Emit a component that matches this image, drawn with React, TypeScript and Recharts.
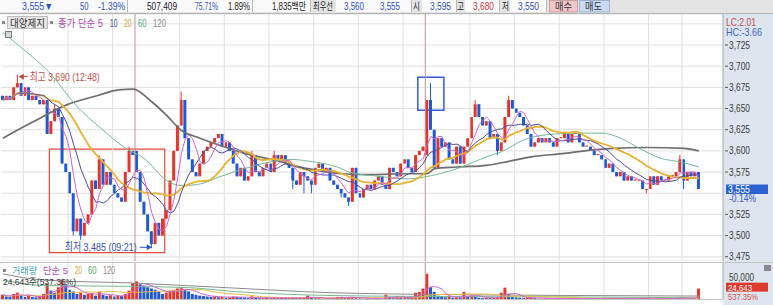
import React from "react";
import {
  ComposedChart,
  Bar,
  Line,
  XAxis,
  YAxis,
  CartesianGrid,
  ReferenceLine,
  ReferenceArea,
  ReferenceDot,
} from "recharts";

// 5-minute candles, three sessions (partial, full, partial)
const closes = [
  3660, 3665, 3660, 3675, 3680, 3665, 3675, 3660, 3665, 3660, 3655, 3660, 3620, 3635, 3650, 3640, 3585, 3575,
  3550, 3505, 3520, 3500, 3515, 3525, 3565, 3555, 3590, 3560, 3575, 3560, 3550, 3545, 3540, 3575, 3600, 3595,
  3575, 3540, 3525, 3505, 3490, 3515, 3500, 3520, 3530, 3565,
  3600, 3630, 3660, 3615, 3590, 3575, 3570, 3585, 3600, 3605,
  3610, 3615, 3620, 3605, 3610, 3600, 3585, 3570, 3580, 3565,
  3570, 3595, 3575, 3570, 3580, 3585, 3575, 3595, 3590, 3595,
  3585, 3580, 3565, 3560, 3575, 3570, 3565, 3560, 3580, 3585,
  3575, 3580, 3565, 3560, 3555, 3550, 3545, 3540, 3580, 3550,
  3545, 3555, 3560, 3555, 3565, 3570, 3560, 3555, 3580, 3575,
  3570, 3585, 3590, 3580, 3575, 3595, 3600, 3605,
  3660, 3625, 3580, 3615, 3605, 3610, 3590, 3585, 3605, 3585,
  3605, 3615, 3640, 3655, 3640, 3630, 3635, 3615, 3620, 3600,
  3610, 3640, 3660, 3650, 3645, 3640, 3630, 3620, 3605, 3610,
  3615, 3610, 3615, 3610, 3605, 3615, 3615, 3620, 3610, 3620,
  3620, 3610, 3605, 3605, 3600, 3595, 3595, 3590, 3580, 3585,
  3575, 3570, 3575, 3565, 3570, 3565, 3565, 3565, 3555, 3555,
  3570, 3560, 3570, 3565, 3565, 3570, 3570, 3575, 3590, 3565,
  3575, 3570, 3575, 3555,
];

// session opens (other candles open at the previous close)
const openAt: Record<number, number> = { 0: 3665, 36: 3600, 114: 3595 };
const highAt: Record<number, number> = {
  4: 3690, 14: 3655, 26: 3595, 34: 3605, 48: 3670, 67: 3600, 73: 3600, 115: 3680, 127: 3660, 136: 3665, 182: 3595,
};
const lowAt: Record<number, number> = {
  19: 3500, 21: 3495, 40: 3485, 78: 3555, 81: 3550, 83: 3550, 91: 3545, 93: 3535, 133: 3595, 173: 3550, 183: 3555,
};

const volumes = [
  10000, 6000, 5000, 12000, 15000, 8000, 5000, 8000, 5000, 4000, 6000, 12000, 37000, 20000, 15000, 28000, 45000, 35000,
  22000, 18000, 12000, 15000, 10000, 12000, 14000, 8000, 17000, 10000, 7000, 9000, 6000, 8000, 7000, 12000, 20000, 38000,
  42000, 35000, 30000, 28000, 25000, 22000, 18000, 12000, 15000, 20000,
  22000, 25000, 26000, 22000, 18000, 12000, 10000, 8000, 7000, 6000,
  5000, 6000, 4000, 5000, 3000, 4000, 6000, 5000, 4000, 3000,
  2000, 6000, 3000, 2000, 2000, 3000, 2000, 4000, 2000, 3000,
  2000, 2000, 4000, 2000, 3000, 3000, 8000, 3000, 2000, 2000,
  1000, 2000, 2000, 3000, 5000, 5000, 2000, 4000, 5000, 2000,
  2000, 1000, 2000, 1000, 2000, 2000, 1000, 10000, 3000, 2000,
  7000, 3000, 5000, 2000, 3000, 15000, 17000, 25000,
  60000, 28000, 17000, 8000, 5000, 4000, 6000, 3000, 4000, 3000,
  17000, 5000, 8000, 6000, 3000, 2000, 3000, 2000, 3000, 4000,
  15000, 27000, 12000, 5000, 4000, 3000, 2000, 3000, 4000, 2000,
  1000, 1000, 2000, 1000, 1000, 2000, 1000, 1000, 1000, 2000,
  1000, 1000, 2000, 1000, 1000, 1000, 2000, 1000, 3000, 2000,
  1000, 2000, 1000, 2000, 1000, 1000, 1000, 1000, 3000, 2000,
  2000, 1000, 1000, 1000, 1000, 1000, 1000, 2000, 4000, 2000,
  1000, 1000, 1000, 24643,
];

// longer averages: [candle index, value]
const ma60Pts = [
  [0, 3740], [3, 3729], [13, 3690], [20, 3652], [26, 3628], [33, 3603], [38, 3591], [44, 3565], [48, 3559],
  [53, 3561], [58, 3569], [62, 3575], [73, 3588], [77, 3590], [82, 3588], [91, 3579], [93, 3575], [101, 3570],
  [109, 3567], [113, 3569], [122, 3579], [130, 3593], [134, 3599], [140, 3613], [146, 3619], [155, 3621],
  [161, 3621], [166, 3615], [171, 3603], [177, 3591], [182, 3587], [187, 3581],
];
const ma120Pts = [
  [0, 3615], [8, 3634], [17, 3654], [26, 3666], [31, 3672], [35, 3673], [40, 3658], [44, 3642], [48, 3624],
  [53, 3615], [58, 3607], [62, 3601], [65, 3597], [73, 3589], [82, 3579], [91, 3573], [99, 3572], [109, 3573],
  [114, 3573], [116, 3579], [122, 3581], [130, 3583], [134, 3586], [142, 3593], [151, 3597], [158, 3601],
  [164, 3603], [173, 3604], [183, 3603], [187, 3600],
];
const volMa60Pts = [
  [0, 45000], [11, 32000], [35, 30000], [50, 27000], [62, 18000], [90, 8000], [114, 6000], [150, 5000], [187, 3000],
];
const volMa120Pts = [
  [0, 60000], [11, 45000], [35, 38000], [60, 27000], [88, 15000], [114, 11000], [150, 8500], [187, 7000],
];

const priceTicks = [3475, 3500, 3525, 3550, 3575, 3600, 3625, 3650, 3675, 3700, 3725, 3750];
const hourLines = [6, 18, 30, 48, 60, 72, 84, 96, 108, 126, 138, 150, 162, 174, 183];
const dayLines = [36, 114];
const SLOTS = 194;

const UP = "#e2362c";
const DOWN = "#2159d4";
const GRID = "#e0e0e0";
const AXIS = "#9eacbc";
const FONT = '"Liberation Sans", "Noto Sans CJK KR", sans-serif';

const sma = (arr: number[], n: number, i: number) => {
  const s = arr.slice(Math.max(0, i - n + 1), i + 1);
  return s.reduce((a, b) => a + b, 0) / s.length;
};

const rows: any[] = [];
for (let i = 0; i < SLOTS; i++) {
  if (i >= closes.length) {
    rows.push({ i });
    continue;
  }
  const close = closes[i];
  const open = openAt[i] ?? closes[i - 1];
  const high = highAt[i] ?? Math.max(open, close);
  const low = lowAt[i] ?? Math.min(open, close);
  rows.push({
    i,
    open,
    close,
    high,
    low,
    range: [low, high],
    up: close >= open,
    vol: volumes[i],
    volUp: i === 0 || volumes[i] >= volumes[i - 1],
    ma5: sma(closes, 5, i),
    ma10: sma(closes, 10, i),
    ma20: sma(closes, 20, i),
    vma5: sma(volumes, 5, i),
    vma20: sma(volumes, 20, i),
  });
}
ma60Pts.forEach(([k, v]) => (rows[k].ma60 = v));
ma120Pts.forEach(([k, v]) => (rows[k].ma120 = v));
volMa60Pts.forEach(([k, v]) => (rows[k].vma60 = v));
volMa120Pts.forEach(([k, v]) => (rows[k].vma120 = v));

const lastClose = closes[closes.length - 1];
const lastVol = volumes[volumes.length - 1];
const fmt = (v: number) => v.toLocaleString("en-US");

// condensed text: the terminal font is much narrower than anything installed
const T = ({ x, y, w, s = 10.5, c = "#333", anchor, children }: any) => (
  <text
    x={x}
    y={y}
    fontSize={s}
    fill={c}
    fontFamily={FONT}
    textAnchor={anchor}
    textLength={w}
    lengthAdjust="spacingAndGlyphs"
  >
    {children}
  </text>
);

const Candle = (props: any) => {
  let { x, y, width, height } = props;
  const p = props.payload;
  if (!p || p.close == null) return null;
  if (height < 0) {
    y += height;
    height = -height;
  }
  const color = p.up ? UP : DOWN;
  const span = p.high - p.low;
  const k = span > 0 ? height / span : 0;
  const top = y + (p.high - Math.max(p.open, p.close)) * k;
  const bot = y + (p.high - Math.min(p.open, p.close)) * k;
  const cx = x + width / 2;
  return (
    <g>
      <line x1={cx} x2={cx} y1={y} y2={y + Math.max(height, 1)} stroke={color} strokeWidth={1} />
      <rect x={x} y={top} width={width} height={Math.max(1, bot - top)} fill={color} />
    </g>
  );
};

const VolBar = (props: any) => {
  const { x, y, width, height, payload } = props;
  if (!payload || payload.vol == null) return null;
  return <rect x={x} y={y} width={width} height={Math.max(0, height)} fill={payload.volUp ? UP : DOWN} />;
};

const PriceTick = ({ x, y, payload }: any) => {
  if (payload.value === 3750 || payload.value === 3550) return null;
  return (
    <g>
      <line x1={x + 2} x2={x + 5} y1={y} y2={y} stroke="#555" />
      <T x={x + 6} y={y + 3.5} w={21} s={10.5} c="#3c3c3c">
        {fmt(payload.value)}
      </T>
    </g>
  );
};

const VolTick = ({ x, y, payload }: any) => (
  <T x={x + 6} y={y + 3} w={25} s={10} c="#3c3c3c">
    {fmt(payload.value)}
  </T>
);

const HighLabel = ({ viewBox }: any) => {
  const cx = viewBox.x + viewBox.width / 2;
  const cy = viewBox.y + viewBox.height / 2 + 2;
  return (
    <g>
      <polygon points={`${cx + 1},${cy} ${cx + 6},${cy - 3} ${cx + 6},${cy + 3}`} fill="#d03a3a" />
      <line x1={cx + 5} x2={cx + 10} y1={cy} y2={cy} stroke="#d03a3a" />
      <T x={cx + 12} y={cy + 4} w={70} s={11} c="#c0504d">
        최고 3,690 (12:48)
      </T>
    </g>
  );
};

const LowLabel = ({ viewBox }: any) => {
  const cx = viewBox.x + viewBox.width / 2;
  const cy = viewBox.y + viewBox.height / 2 - 1;
  return (
    <g>
      <polygon points={`${cx},${cy} ${cx - 5},${cy - 3} ${cx - 5},${cy + 3}`} fill="#2a4fd0" />
      <line x1={cx - 12} x2={cx - 4} y1={cy} y2={cy} stroke="#2a4fd0" />
      <T x={cx - 87} y={cy + 4} w={72} s={11} c="#3550b8">
        최저 3,485 (09:21)
      </T>
    </g>
  );
};

const PriceBox = ({ viewBox }: any) => {
  const x = viewBox.x + viewBox.width + 3;
  const y = viewBox.y;
  return (
    <g>
      <rect x={x} y={y - 4.5} width={42} height={9.5} fill="#2d62d2" />
      <T x={x + 2} y={y + 3.6} w={22} s={10} c="#fff">
        {fmt(lastClose)}
      </T>
      <T x={x + 3} y={y + 13} w={27} s={10} c="#3a58c0">
        -0.14%
      </T>
    </g>
  );
};

const VolBox = ({ viewBox }: any) => {
  const x = viewBox.x + viewBox.width + 3;
  const y = viewBox.y - 1.5;
  return (
    <g>
      <rect x={x} y={y - 4.5} width={42} height={9} fill="#e0392e" />
      <T x={x + 2} y={y + 3.5} w={24} s={9.5} c="#fff">
        {fmt(lastVol)}
      </T>
      <T x={x + 2} y={y + 12.5} w={30} s={9.5} c="#d0504a">
        537.35%
      </T>
    </g>
  );
};

const gridLines = () => [
  ...hourLines.map((g) => <ReferenceLine key={`h${g}`} x={g} position="start" stroke={GRID} />),
  ...dayLines.map((g) => <ReferenceLine key={`d${g}`} x={g} position="start" stroke="#c98e8e" />),
];

const headerCells = [
  [0, 127], [128, 124], [253, 57], [336, 75], [422, 34], [465, 34], [510, 36],
];

const headerTexts = [
  { x: 22, w: 31, t: "3,555▼", c: "#3150c4" },
  { x: 80, w: 8.5, t: "50", c: "#3150c4" },
  { x: 98, w: 27, t: "-1.39%", c: "#3150c4" },
  { x: 147, w: 30, t: "507,409", c: "#222" },
  { x: 195, w: 23, t: "75.71%", c: "#3150c4" },
  { x: 228, w: 22, t: "1.89%", c: "#222" },
  { x: 272, w: 34, t: "1,835백만", c: "#222" },
  { x: 313, w: 20, t: "최우선", c: "#222" },
  { x: 344, w: 20, t: "3,560", c: "#3150c4" },
  { x: 380, w: 20, t: "3,555", c: "#3150c4" },
  { x: 413, w: 7, t: "시", c: "#222" },
  { x: 430, w: 21, t: "3,595", c: "#3150c4" },
  { x: 457, w: 7, t: "고", c: "#222" },
  { x: 473, w: 21, t: "3,680", c: "#c83a3a" },
  { x: 502, w: 7, t: "저", c: "#222" },
  { x: 518, w: 21, t: "3,550", c: "#3150c4" },
];

const abs = (x: number, y: number, extra: React.CSSProperties = {}): React.CSSProperties => ({
  position: "absolute",
  left: x,
  top: y,
  ...extra,
});

export default function App() {
  return (
    <div
      style={{
        position: "absolute",
        left: 0,
        top: 0,
        width: 773,
        height: 305,
        overflow: "hidden",
        background: "#fff",
        fontFamily: FONT,
      }}
    >
      {/* right scale background */}
      <div style={abs(723, 14, { width: 50, height: 291, background: "#dde5ef" })} />

      {/* price panel */}
      <div style={abs(0, 14)}>
        <ComposedChart width={773} height={247} data={rows} margin={{ top: 0, right: 0, bottom: 0, left: 1 }}>
          <CartesianGrid vertical={false} stroke={GRID} />
          <XAxis dataKey="i" hide />
          <YAxis
            orientation="right"
            width={50}
            domain={[3470, 3761.6]}
            ticks={priceTicks}
            interval={0}
            allowDataOverflow
            tick={<PriceTick />}
            tickLine={false}
            tickSize={0}
            tickMargin={0}
            axisLine={{ stroke: AXIS }}
          />
          {gridLines()}
          <ReferenceArea x1={13} x2={43} y1={3480} y2={3602} fill="none" stroke="#e8493c" strokeWidth={1.2} />
          <ReferenceArea x1={112} x2={118} y1={3648} y2={3687} fill="none" stroke="#3258e8" strokeWidth={1.5} />
          <Bar dataKey="range" barSize={3} shape={<Candle />} minPointSize={1} isAnimationActive={false} />
          <Line dataKey="ma120" type="monotone" stroke="#6e6e6e" strokeWidth={1.7} dot={false} connectNulls isAnimationActive={false} />
          <Line dataKey="ma60" type="monotone" stroke="#74b894" strokeWidth={1} dot={false} connectNulls isAnimationActive={false} />
          <Line dataKey="ma20" type="linear" stroke="#e9b22e" strokeWidth={1.8} dot={false} isAnimationActive={false} />
          <Line dataKey="ma10" type="linear" stroke="#4a4c9c" strokeWidth={1} dot={false} isAnimationActive={false} />
          <Line dataKey="ma5" type="linear" stroke="#cc66cc" strokeWidth={1} dot={false} isAnimationActive={false} />
          <ReferenceDot x={4} y={3690} r={0.5} fill="none" stroke="none" label={<HighLabel />} />
          <ReferenceDot x={40} y={3485} r={0.5} fill="none" stroke="none" label={<LowLabel />} />
          <ReferenceLine y={lastClose} stroke="none" label={<PriceBox />} />
        </ComposedChart>
      </div>

      {/* volume panel (extra bottom margin leaves room for the axis labels) */}
      <div style={abs(0, 262)}>
        <ComposedChart width={773} height={43} data={rows} margin={{ top: 0, right: 0, bottom: 6, left: 1 }}>
          <XAxis dataKey="i" hide />
          <YAxis
            orientation="right"
            width={50}
            domain={[0, 88100]}
            ticks={[50000]}
            allowDataOverflow
            tick={<VolTick />}
            tickLine={false}
            tickSize={0}
            tickMargin={0}
            axisLine={{ stroke: AXIS }}
          />
          {gridLines()}
          <Bar dataKey="vol" barSize={3} shape={<VolBar />} isAnimationActive={false} />
          <Line dataKey="vma120" type="monotone" stroke="#8a8a8a" strokeWidth={1} dot={false} connectNulls isAnimationActive={false} />
          <Line dataKey="vma60" type="monotone" stroke="#74b894" strokeWidth={1} dot={false} connectNulls isAnimationActive={false} />
          <Line dataKey="vma20" type="linear" stroke="#e9c040" strokeWidth={1} dot={false} isAnimationActive={false} />
          <Line dataKey="vma5" type="linear" stroke="#cc66cc" strokeWidth={1} dot={false} isAnimationActive={false} />
          <ReferenceLine y={lastVol} stroke="none" label={<VolBox />} />
        </ComposedChart>
      </div>

      {/* header, legends and panel furniture */}
      <svg width={773} height={305} style={abs(0, 0, { pointerEvents: "none" })}>
        <rect x={0} y={262} width={773} height={1} fill="#c4c4c4" />
        <rect x={0} y={299} width={723} height={1} fill="#c4c4c4" />

        <rect x={0} y={0} width={773} height={13} fill="#e4e4e4" />
        <rect x={0} y={13} width={773} height={1} fill="#b4b4b4" />
        {headerCells.map(([x, w]) => (
          <g key={x}>
            <rect x={x} y={0} width={w} height={12} fill="#fafafa" />
            <rect x={x + w} y={0} width={1} height={12} fill="#b8b8b8" />
          </g>
        ))}
        {headerTexts.map((h) => (
          <T key={h.x} x={h.x} y={10} w={h.w} s={10.5} c={h.c}>
            {h.t}
          </T>
        ))}
        <rect x={549.5} y={0.5} width={28} height={11.5} fill="#f2c6c6" stroke="#c9a0a0" />
        <T x={555} y={10} w={17} s={10} c="#333">매수</T>
        <rect x={579.5} y={0.5} width={30} height={11.5} fill="#c9daf2" stroke="#9fb3cf" />
        <T x={585} y={10} w={17} s={10} c="#333">매도</T>

        <rect x={2} y={21} width={3} height={3} fill="#888" />
        <rect x={7.5} y={16.5} width={40} height={12} fill="#e6e6e6" stroke="#bdbdbd" />
        <T x={10} y={27} w={35} s={10.5} c="#333">대양제지</T>
        <rect x={50} y={21} width={3} height={3} fill="#888" />
        <T x={58} y={27} w={45} s={10.5} c="#b44ab4">종가 단순 5</T>
        <T x={110} y={27} w={7.5} s={10.5} c="#3a3c8c">10</T>
        <T x={124} y={27} w={7.5} s={10.5} c="#d9a21c">20</T>
        <T x={138} y={27} w={8.5} s={10.5} c="#4ea873">60</T>
        <T x={153} y={27} w={13} s={10.5} c="#888">120</T>
        <rect x={5.5} y={31.5} width={6} height={6} fill="#d8d8d8" stroke="#7a7a7a" />

        <T x={726} y={25.5} w={30} s={10.5} c="#c44848">LC:2.01</T>
        <T x={726} y={35.5} w={36} s={10.5} c="#4262b8">HC:-3.66</T>

        <rect x={3} y={269} width={3} height={3} fill="#888" />
        <T x={12} y={273.5} w={25} s={9.5} c="#3fa2ae">거래량</T>
        <T x={43} y={273.5} w={25} s={9.5} c="#b44ab4">단순 5</T>
        <T x={75} y={273.5} w={7} s={10} c="#d9a21c">20</T>
        <T x={88} y={273.5} w={8.5} s={10} c="#4ea873">60</T>
        <T x={103} y={273.5} w={12} s={10} c="#888">120</T>
        <T x={3} y={284.5} w={73} s={9.5} c="#333">24,643주(537.35%)</T>
        <rect x={764} y={265} width={7} height={6} fill="#8a8a8a" />
      </svg>
    </div>
  );
}
